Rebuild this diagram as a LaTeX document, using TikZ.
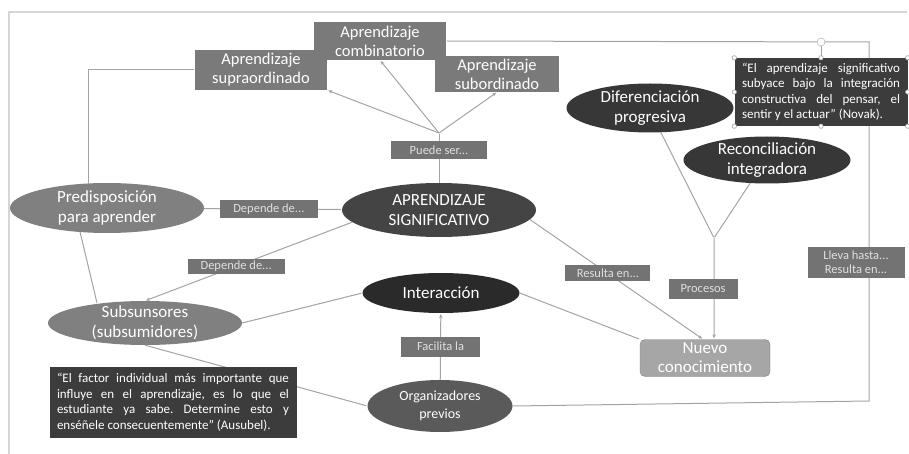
\documentclass[tikz,border=0pt]{standalone}
\usepackage{fontspec}
\setmainfont{Carlito}
\usetikzlibrary{shapes.geometric,arrows.meta}
\frenchspacing

\definecolor{linegray}{HTML}{A3A3A3}
\definecolor{framegray}{HTML}{D6D6D6}
\definecolor{boxgray}{HTML}{7A7A7A}
\definecolor{taggray}{HTML}{737373}
\definecolor{ovalgray}{HTML}{808080}
\definecolor{ovaldark}{HTML}{444444}
\definecolor{ovalblack}{HTML}{2A2A2A}
\definecolor{ovalmid}{HTML}{5A5A5A}
\definecolor{ovaldif}{HTML}{373737}
\definecolor{nuevogray}{HTML}{A6A6A6}
\definecolor{quotegray}{HTML}{3C3C3C}

\begin{document}
\begin{tikzpicture}[x=1pt, y=-1pt, shorten >=1pt, >={Stealth[length=4pt,width=3.5pt]},
    conn/.style={draw=linegray, line width=1pt},
    quote/.style={fill=quotegray, text=white, inner sep=0pt, align=justify, font=\fontsize{13}{15.5}\selectfont}]
   \useasboundingbox (0,0) rectangle (909,454);
   % marco
   \draw[framegray, line width=1.5pt] (9,454) -- (9,12) -- (908,12);

   \begin{scope}[every node/.style={rectangle, fill=boxgray, text=white, align=center, inner sep=0pt, font=\fontsize{16.5}{19}\selectfont}]
    \node[minimum width=132pt, minimum height=40pt] (supra) at (261,70) {Aprendizaje\\supraordinado};
    \node[minimum width=132pt, minimum height=38pt] (comb) at (380,41) {Aprendizaje\\combinatorio};
    \node[minimum width=124pt, minimum height=36pt] (sub) at (497,74) {Aprendizaje\\subordinado};
    \node[fill=nuevogray, draw=ovalgray, rounded corners=5pt, minimum width=130pt, minimum height=37pt, font=\fontsize{17}{19}\selectfont] (nuevo) at (705,358) {Nuevo\\conocimiento};
   \end{scope}

   \begin{scope}[every node/.style={ellipse, text=white, align=center, inner xsep=0pt, inner ysep=-8pt, font=\fontsize{17}{20}\selectfont}]
    \node[fill=ovalgray, minimum width=194pt, minimum height=50pt] (pred) at (107,208) {Predisposición\\para aprender};
    \node[fill=ovalgray, minimum width=194pt, minimum height=44pt] (subs) at (145,323) {Subsunsores\\(subsumidores)};
    \node[fill=ovaldark, minimum width=194pt, minimum height=54pt] (apr) at (439,210) {APRENDIZAJE\\SIGNIFICATIVO};
    \node[fill=ovalblack, minimum width=157pt, minimum height=40pt] (inter) at (441,293) {Interacción};
    \node[fill=ovalmid, minimum width=145pt, minimum height=52pt, font=\fontsize{14}{18}\selectfont] (org) at (440,406) {Organizadores\\previos};
    \node[fill=ovaldif, minimum width=167pt, minimum height=49pt] (dif) at (650,108) {Diferenciación\\progresiva};
    \node[fill=ovaldif, minimum width=167pt, minimum height=47pt] (rec) at (767,160) {Reconciliación\\integradora};
   \end{scope}

   \coordinate (ps) at (439,133);
   \coordinate (jn) at (714,238);
   \coordinate (c1) at (869,401);
   \coordinate (c2) at (869,42);

   \begin{scope}[every edge/.style={conn}, every node/.style={fill=taggray, text=white!88!black, inner sep=0pt, minimum height=18pt, font=\fontsize{12.5}{15}\selectfont}]
    \draw[conn] (pred.127) |- (supra);
    \draw (pred.222) edge (subs.158);
    \draw (pred) edge node[pos=0.47, minimum width=98pt] (dep1) {Depende de...} (apr);
    \draw (apr.188) edge[->] node[pos=0.56, minimum width=97pt, minimum height=15pt] (dep2) {Depende de...} (subs.north);
    \draw (ps) edge[->] (supra.south east);
    \draw (ps) edge[->] (comb.south);
    \draw (ps) edge[->] (sub.south);
    \draw (apr) edge node[pos=0.66, minimum width=96pt] (puede) {Puede ser...} (ps);
    \draw (subs.east) edge (inter.west);
    \draw (subs.south) edge (org.west);
    \draw (org) edge[->] node[minimum width=79pt, minimum height=20pt] (fac) {Facilita la} (inter);
    \draw (inter.east) edge (nuevo.north west);
    \draw (apr.-6) edge[->] node[pos=0.45, minimum width=85pt, minimum height=16pt] (res) {Resulta en...} (nuevo.96);
    \draw (dif.-66) edge (jn);
    \draw (rec.-126) edge (jn);
    \draw (jn) edge[->] node[xshift=-11pt, minimum width=69pt, minimum height=20pt] (proc) {Procesos} (nuevo.64);
    \draw[conn] (org.east) -- (c1) -- node[pos=0.387, xshift=-13pt, minimum width=97pt, minimum height=31pt, align=center, font=\fontsize{12.5}{14}\selectfont] (lleva) {Lleva hasta...\\Resulta en...} (c2) -- (comb.east);
   \end{scope}

   % citas
   \node[quote, minimum width=247pt, minimum height=71pt, text width=232pt] (aus) at (173,402) {“El factor individual más importante que\linebreak influye en el aprendizaje, es lo que el\linebreak estudiante ya sabe. Determine esto y\linebreak enséñele consecuentemente” (Ausubel).};
   \node[quote, minimum width=173pt, minimum height=68pt, text width=158pt] (novak) at (821,92) {“El aprendizaje significativo\linebreak subyace bajo la integración\linebreak constructiva del pensar, el\linebreak sentir y el actuar” (Novak).};

   % tiradores de la seleccion
   \node[circle, draw=linegray, fill=white, inner sep=0pt, minimum size=8pt] (rot) at (821,42) {};
   \draw[conn, line width=0.6pt] (rot) -- (novak.north);
   \foreach \a in {north west,north,north east,west,east,south west,south,south east}
     \draw[linegray, fill=white, line width=0.6pt] (novak.\a) circle (2.2pt);
\end{tikzpicture}
\end{document}
